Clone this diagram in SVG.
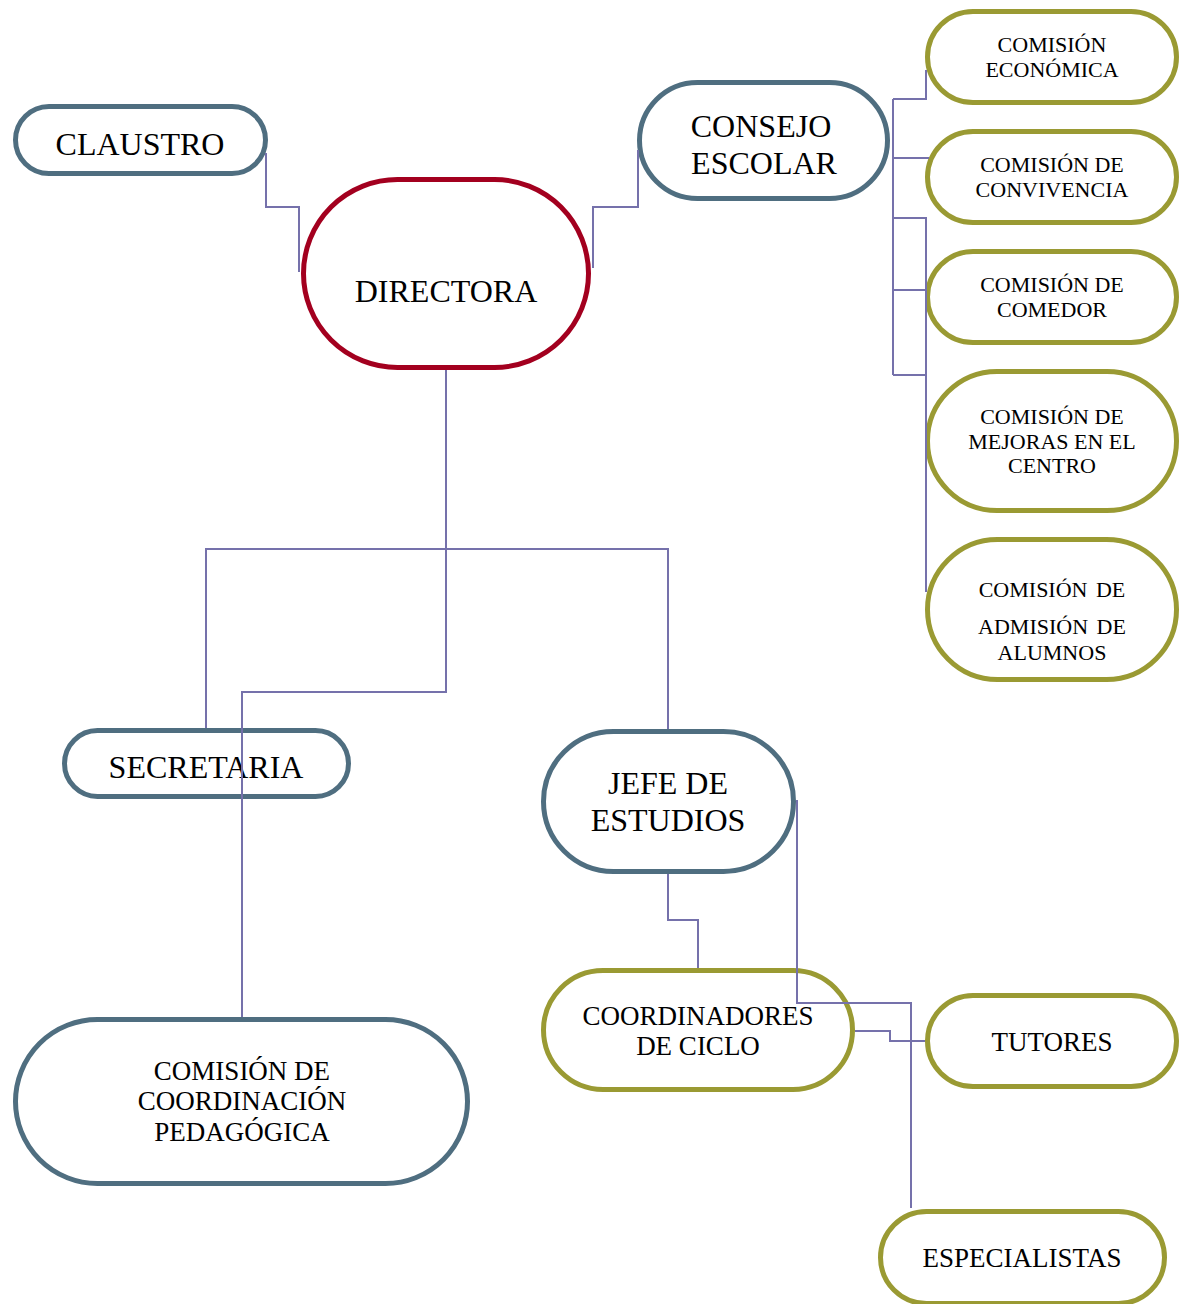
<svg xmlns="http://www.w3.org/2000/svg" width="1183" height="1304" viewBox="0 0 1183 1304">
<style>
.n{fill:#fff;stroke-width:5}
.t{stroke:#4f6e80}
.r{stroke:#a3001f}
.o{stroke:#9a9a33}
.c{fill:none;stroke:#7571ab;stroke-width:2}
text{font-family:"Liberation Serif","Times New Roman",serif;fill:#000;text-anchor:middle}
.b{font-size:32px}
.s{font-size:22px}
.m{font-size:27px}
</style>
<rect width="1183" height="1304" fill="#fff"/>
<g id="claustro"><rect class="n t" x="15.5" y="106.5" width="250" height="67" rx="33.5"/><text class="b" x="140" y="155">CLAUSTRO</text></g>
<g id="directora"><rect class="n r" x="303.5" y="179.5" width="285" height="188" rx="94"/><text class="b" x="446" y="302">DIRECTORA</text></g>
<g id="consejo"><rect class="n t" x="639.5" y="82.5" width="248" height="116" rx="58"/><text class="b" x="761" y="137">CONSEJO</text><text class="b" x="764" y="174">ESCOLAR</text></g>
<g id="economica"><rect class="n o" x="927.5" y="11.5" width="249" height="91" rx="45.5"/><text class="s" x="1052" y="52">COMISIÓN</text><text class="s" x="1052" y="77">ECONÓMICA</text></g>
<g id="convivencia"><rect class="n o" x="927.5" y="131.5" width="249" height="91" rx="45.5"/><text class="s" x="1052" y="172">COMISIÓN DE</text><text class="s" x="1052" y="197">CONVIVENCIA</text></g>
<g id="comedor"><rect class="n o" x="927.5" y="251.5" width="249" height="91" rx="45.5"/><text class="s" x="1052" y="292">COMISIÓN DE</text><text class="s" x="1052" y="317">COMEDOR</text></g>
<g id="mejoras"><rect class="n o" x="927.5" y="371.5" width="249" height="139" rx="69.5"/><text class="s" x="1052" y="424">COMISIÓN DE</text><text class="s" x="1052" y="449">MEJORAS EN EL</text><text class="s" x="1052" y="473">CENTRO</text></g>
<g id="admision"><rect class="n o" x="927.5" y="539.5" width="249" height="140" rx="70"/><text class="s" x="1052" y="597" word-spacing="3">COMISIÓN DE</text><text class="s" x="1052" y="634" word-spacing="3">ADMISIÓN DE</text><text class="s" x="1052" y="660">ALUMNOS</text></g>
<g id="secretaria"><rect class="n t" x="64.5" y="730.5" width="284" height="66" rx="33"/><text class="b" x="206" y="778">SECRETARIA</text></g>
<g id="jefe"><rect class="n t" x="543.5" y="731.5" width="250" height="140" rx="70"/><text class="b" x="668" y="794">JEFE DE</text><text class="b" x="668" y="831">ESTUDIOS</text></g>
<g id="coordinadores"><rect class="n o" x="543.5" y="970.5" width="309" height="119" rx="59.5"/><text class="m" x="698" y="1025">COORDINADORES</text><text class="m" x="698" y="1055">DE CICLO</text></g>
<g id="tutores"><rect class="n o" x="927.5" y="995.5" width="249" height="91" rx="45.5"/><text class="m" x="1052" y="1051">TUTORES</text></g>
<g id="especialistas"><rect class="n o" x="880.5" y="1211.5" width="284" height="92" rx="46"/><text class="m" x="1022" y="1267">ESPECIALISTAS</text></g>
<g id="pedagogica"><rect class="n t" x="15.5" y="1019.5" width="452" height="164" rx="82"/><text class="m" x="242" y="1080">COMISIÓN DE</text><text class="m" x="242" y="1110">COORDINACIÓN</text><text class="m" x="242" y="1141">PEDAGÓGICA</text></g>
<g id="connectors">
<path class="c" d="M266,153 V207 H299 V272"/>
<path class="c" d="M593,268 V207 H638 V150"/>
<path class="c" d="M893,99 V375"/>
<path class="c" d="M893,99 H926 V70"/>
<path class="c" d="M893,158 H929"/>
<path class="c" d="M893,218 H926 V592"/>
<path class="c" d="M893,290 H926"/>
<path class="c" d="M893,375 H926"/>
<path class="c" d="M446,370 V692 H242 V1017"/>
<path class="c" d="M206,728 V549 H668 V729"/>
<path class="c" d="M668,874 V920 H698 V968"/>
<path class="c" d="M797,800 V1003 H911 V1208"/>
<path class="c" d="M855,1031 H890 V1041 H925"/>
</g>
</svg>
